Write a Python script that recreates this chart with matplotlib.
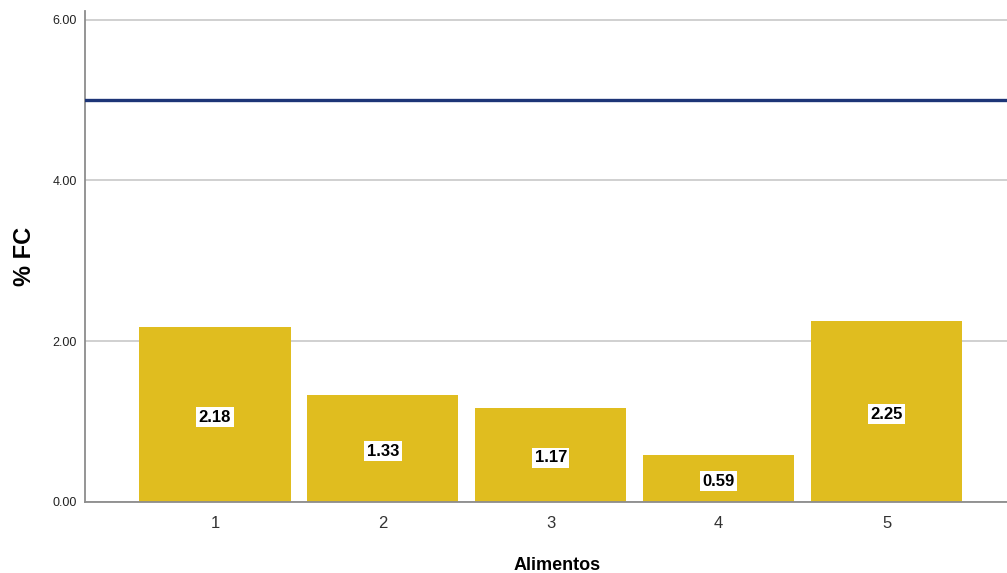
import matplotlib
matplotlib.use('Agg')
import matplotlib.pyplot as plt
import numpy as np

plt.rcParams['font.family'] = ['Liberation Sans', 'DejaVu Sans']

BAR = '#E0BD1F'
NAVY = '#1D3577'
GRID = '#C8C8C8'
SPINE = '#8C8C8C'

categories = ['1', '2', '3', '4', '5']
fc_values = [2.18, 1.33, 1.17, 0.59, 2.25]
reference_level = 5.0
y_ticks = [0.0, 2.0, 4.0, 6.0]

fig = plt.figure(figsize=(10.07, 5.73), dpi=100)
fig.patch.set_facecolor('white')
ax = fig.add_axes([85 / 1007, 71 / 573, 922 / 1007, 490.5 / 573])

x = np.arange(len(categories))
ax.set_axisbelow(True)
ax.grid(axis='y', color=GRID, linewidth=1.2)
bars = ax.bar(x, fc_values, width=0.9, color=BAR, edgecolor='none', zorder=2)
ax.axhline(reference_level, color=NAVY, linewidth=2.4, zorder=3)

# value labels sit at mid-height of each bar, nudged a little downward
for bar, v in zip(bars, fc_values):
    ax.annotate(f'{v:.2f}', (bar.get_x() + bar.get_width() / 2, v / 2),
                xytext=(0, -2), textcoords='offset points',
                ha='center', va='center', fontsize=12, fontweight='bold', color='black',
                bbox=dict(boxstyle='square,pad=0.15', fc='white', ec='none'), zorder=4)

ax.set_xlim(-0.774, 4.717)
ax.set_ylim(0, 6.1)
ax.set_xticks(x)
ax.set_xticklabels(categories, fontsize=12, color='#333333')
ax.set_yticks(y_ticks)
ax.set_yticklabels([f'{t:.2f}' for t in y_ticks], fontsize=9, color='#222222')
ax.tick_params(axis='both', length=0)
ax.tick_params(axis='x', pad=10)
ax.tick_params(axis='y', pad=6)

ax.spines[['top', 'right']].set_visible(False)
for s in ['left', 'bottom']:
    ax.spines[s].set_color(SPINE)
    ax.spines[s].set_linewidth(1.3)

ax.set_xlabel('Alimentos', fontsize=13, fontweight='bold', va='baseline')
ax.xaxis.set_label_coords(0.512, -0.1385)
ax.set_ylabel('% FC', fontsize=17, fontweight='bold', va='center')
ax.yaxis.set_label_coords(-0.0655, 0.5)

fig.savefig('out.png', dpi=100, facecolor='white')
